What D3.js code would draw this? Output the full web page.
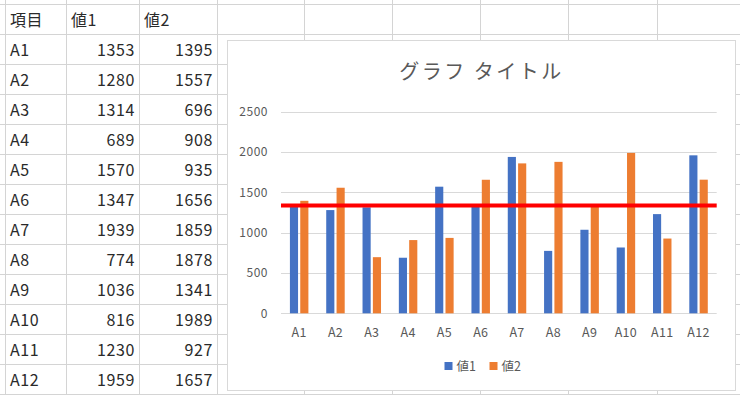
<!DOCTYPE html>
<html>
<head>
<meta charset="utf-8">
<script src="https://cdn.jsdelivr.net/npm/d3@7"></script>
<style>
    body { margin: 0; background: #fff; }
    svg { display: block; font-family: "Noto Sans CJK JP", "Noto Sans", sans-serif; }
</style>
</head>
<body>
<svg id="sheet" width="740" height="395"></svg>
<script>
// data
const headers = ['項目', '値1', '値2'];
const categories = ['A1', 'A2', 'A3', 'A4', 'A5', 'A6', 'A7', 'A8', 'A9', 'A10', 'A11', 'A12'];
const values1 = [1353, 1280, 1314, 689, 1570, 1347, 1939, 774, 1036, 816, 1230, 1959];
const values2 = [1395, 1557, 696, 908, 935, 1656, 1859, 1878, 1341, 1989, 927, 1657];
const seriesNames = ['値1', '値2'];
const refValue = 1338;   // red horizontal line
const yTicks = [0, 500, 1000, 1500, 2000, 2500];
const chartTitle = 'グラフ タイトル';

const colors = ['#4472C4', '#ED7D31'];
const svg = d3.select('#sheet');

////////////////////////
// spreadsheet grid  //
////////////////////////
const colEdges = [5, 66, 139, 217, 304, 392, 480, 568, 657, 745];
const rowTop = 4.3;
const rowH = 30;
const rowCount = categories.length + 1;

let grid = svg.append('g').attr('stroke', '#d4d4d4').attr('stroke-width', 1);
grid.selectAll('line.h')
    .data(d3.range(rowCount + 1))
    .join('line')
    .attr('class', 'h')
    .attr('x1', 0).attr('x2', 740)
    .attr('y1', d => Math.round(rowTop + d * rowH) + 0.5)
    .attr('y2', d => Math.round(rowTop + d * rowH) + 0.5);
grid.selectAll('line.v')
    .data(colEdges)
    .join('line')
    .attr('class', 'v')
    .attr('x1', d => d + 0.5).attr('x2', d => d + 0.5)
    .attr('y1', 0).attr('y2', 395);

// table rows: header then one row per category
const tableRows = [headers].concat(categories.map((c, i) => [c, values1[i], values2[i]]));
let rowSel = svg.append('g')
    .style('font-size', '16px')
    .style('letter-spacing', '0.6px')
    .attr('fill', '#2a2a2a')
    .selectAll('g')
    .data(tableRows)
    .join('g')
    .attr('transform', (d, i) => `translate(0, ${rowTop + i * rowH + 22})`);

rowSel.selectAll('text')
    .data((row, ri) => row.map((v, ci) => ({v, ci, isNum: ri > 0 && ci > 0})))
    .join('text')
    .attr('x', d => d.isNum ? colEdges[d.ci + 1] - 4 : colEdges[d.ci] + 5)
    .attr('text-anchor', d => d.isNum ? 'end' : 'start')
    .text(d => d.v);

////////////////////////
// chart             //
////////////////////////
const box = {x: 227.5, y: 40.5, w: 508, h: 350};
svg.append('rect')
    .attr('x', box.x).attr('y', box.y)
    .attr('width', box.w).attr('height', box.h)
    .attr('fill', '#fff')
    .attr('stroke', '#d9d9d9');

svg.append('text')
    .attr('x', box.x + box.w / 2)
    .attr('y', 79)
    .attr('text-anchor', 'middle')
    .attr('fill', '#595959')
    .style('font-size', '20px')
    .style('letter-spacing', '2.5px')
    .text(chartTitle);

const plotLeft = 281, plotRight = 716.7;
const scaleX = d3.scaleBand()
    .domain(categories)
    .range([plotLeft, plotRight]);
const cw = scaleX.bandwidth();
const scaleInner = d3.scaleBand()
    .domain(seriesNames)
    .range([cw * 0.2455, cw * 0.7545])
    .paddingInner(0.2126);
const scaleY = d3.scaleLinear()
    .domain([0, 2500])
    .range([313.3, 111.7]);

// gridlines + y labels
let yAxis = svg.append('g');
yAxis.selectAll('line')
    .data(yTicks)
    .join('line')
    .attr('x1', plotLeft).attr('x2', plotRight)
    .attr('y1', d => Math.round(scaleY(d)) + 0.5)
    .attr('y2', d => Math.round(scaleY(d)) + 0.5)
    .attr('stroke', '#d9d9d9');
yAxis.selectAll('text')
    .data(yTicks)
    .join('text')
    .attr('x', 268)
    .attr('y', d => scaleY(d))
    .attr('dy', '0.36em')
    .attr('text-anchor', 'end')
    .attr('fill', '#595959')
    .style('font-size', '12px')
    .style('letter-spacing', '0.5px')
    .text(d => d);

// bars
const barData = categories.map((c, i) => [
    {cat: c, s: seriesNames[0], v: values1[i], k: 0},
    {cat: c, s: seriesNames[1], v: values2[i], k: 1}
]).flat();
svg.append('g')
    .selectAll('rect')
    .data(barData)
    .join('rect')
    .attr('x', d => scaleX(d.cat) + scaleInner(d.s))
    .attr('width', scaleInner.bandwidth())
    .attr('y', d => scaleY(d.v))
    .attr('height', d => scaleY(0) - scaleY(d.v))
    .attr('fill', d => colors[d.k]);

// x labels
svg.append('g')
    .selectAll('text')
    .data(categories)
    .join('text')
    .attr('x', d => scaleX(d) + cw / 2)
    .attr('y', 336.5)
    .attr('text-anchor', 'middle')
    .attr('fill', '#595959')
    .style('font-size', '12.5px')
    .style('letter-spacing', '0.3px')
    .text(d => d);

// reference line
svg.append('line')
    .attr('x1', plotLeft).attr('x2', plotRight)
    .attr('y1', scaleY(refValue)).attr('y2', scaleY(refValue))
    .attr('stroke', '#ff0000')
    .attr('stroke-width', 4);

// legend
let legend = svg.append('g').attr('transform', 'translate(444.5, 366)');
let items = legend.selectAll('g')
    .data(seriesNames)
    .join('g')
    .attr('transform', (d, i) => `translate(${i * 45}, 0)`);
items.append('rect')
    .attr('x', 0).attr('y', -4)
    .attr('width', 8).attr('height', 8)
    .attr('fill', (d, i) => colors[i]);
items.append('text')
    .attr('x', 12)
    .attr('dy', '0.36em')
    .attr('fill', '#595959')
    .style('font-size', '12.5px')
    .text(d => d);
</script>
</body>
</html>
